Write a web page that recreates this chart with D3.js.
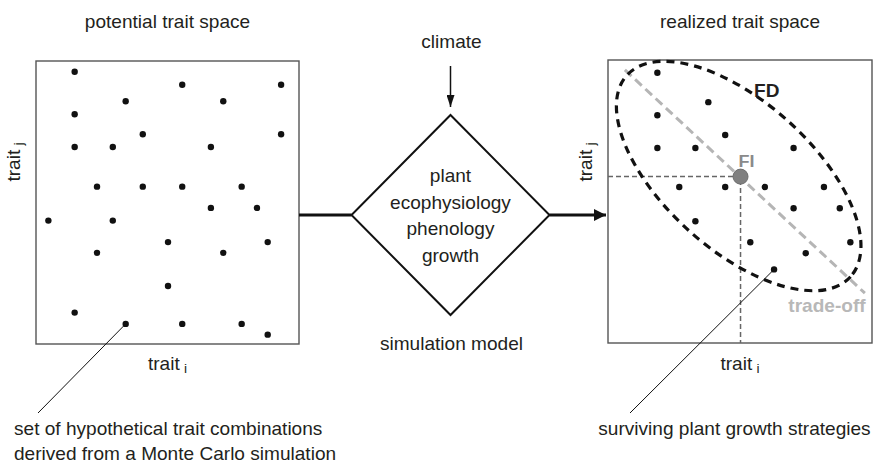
<!DOCTYPE html>
<html>
<head>
<meta charset="utf-8">
<script src="https://cdn.jsdelivr.net/npm/d3@7"></script>
<style>
  body { margin: 0; background: #fff; }
  text { font-family: "Liberation Sans", Arial, sans-serif; fill: #231f20; }
</style>
</head>
<body>
<div id="chart"></div>
<script>
// trait values are in arbitrary units, 0-10 on both axes
const potentialTraitI = [1.47, 5.56, 9.32, 3.41, 7.12, 1.47, 4.06, 9.32, 1.47, 2.92, 6.65, 2.32, 4.06, 5.56, 7.82,
                         6.65, 8.40, 0.47, 2.92, 5.02, 8.81, 2.32, 7.12, 5.02, 1.47, 3.41, 5.56, 7.82, 8.81];
const potentialTraitJ = [9.62, 9.16, 9.16, 8.58, 8.58, 8.12, 7.41, 7.41, 6.96, 6.96, 6.96, 5.56, 5.56, 5.56, 5.56,
                         4.81, 4.81, 4.36, 4.36, 3.60, 3.60, 3.22, 3.22, 2.05, 1.11, 0.71, 0.71, 0.71, 0.33];

const survivingTraitI = [1.87, 3.80, 1.87, 4.44, 1.87, 3.31, 7.03, 2.70, 4.44, 5.94, 8.18, 7.03, 8.78, 3.31, 5.39, 9.18, 7.49, 6.29];
const survivingTraitJ = [9.55, 8.51, 8.05, 7.35, 6.89, 6.89, 6.89, 5.51, 5.51, 5.51, 5.51, 4.76, 4.76, 4.30, 3.56, 3.56, 3.17, 2.60];

const functionalIdentity = [5.02, 5.88];       // FI: mean trait combination
const tradeOffLine = [[0.64, 9.65], [9.73, 1.76]];
const functionalDiversity = { centre: [4.95, 5.9], major: 5.7, minor: 2.8, angle: 42 }; // FD ellipse

const modelProcesses = ['plant', 'ecophysiology', 'phenology', 'growth'];
const leftNote = ['set of hypothetical trait combinations', 'derived from a Monte Carlo simulation'];
const rightNote = ['surviving plant growth strategies'];

const width = 873, height = 464;
const sx = 1.06;   // the source lettering is a little wider than Arial

const svg = d3.select('#chart').append('svg')
    .attr('width', width)
    .attr('height', height);

const defs = svg.append('defs');
defs.append('marker')
    .attr('id', 'bigHead')
    .attr('viewBox', '0 0 12 12')
    .attr('refX', 12).attr('refY', 6)
    .attr('markerWidth', 12).attr('markerHeight', 12)
    .attr('markerUnits', 'userSpaceOnUse')
    .attr('orient', 'auto')
    .append('path').attr('d', 'M0,0L12,6L0,12Z').attr('fill', '#111');
defs.append('marker')
    .attr('id', 'smallHead')
    .attr('viewBox', '0 0 12 8')
    .attr('refX', 12).attr('refY', 4)
    .attr('markerWidth', 12).attr('markerHeight', 8)
    .attr('markerUnits', 'userSpaceOnUse')
    .attr('orient', 'auto')
    .append('path').attr('d', 'M0,0L12,4L0,8Z').attr('fill', '#111');

// Text helper, stretched horizontally
const label = (g, x, y, str, opt = {}) => {
    const t = g.append('text')
        .attr('transform', `translate(${x},${y})${opt.rotate ? ' rotate(-90)' : ''} scale(${sx},1)`)
        .attr('text-anchor', opt.anchor || 'middle')
        .style('font-size', `${opt.size || 18}px`)
        .style('font-weight', opt.bold ? 'bold' : 'normal');
    if (opt.fill) t.style('fill', opt.fill);
    t.text(str);
    if (opt.sub) {
        t.append('tspan').attr('dx', 4).attr('dy', 3).style('font-size', '13px').text(opt.sub);
    }
    return t;
};

// One trait-space panel
const panel = (x0, x1, y0, y1, title) => {
    const xScale = d3.scaleLinear().domain([0, 10]).range([x0, x1]);
    const yScale = d3.scaleLinear().domain([0, 10]).range([y1, y0]);
    const g = svg.append('g');
    g.append('rect')
        .attr('x', x0).attr('y', y0)
        .attr('width', x1 - x0).attr('height', y1 - y0)
        .attr('fill', 'none')
        .attr('stroke', '#555')
        .attr('stroke-width', 1.4);
    label(g, (x0 + x1) / 2, 28, title);
    label(g, (x0 + x1) / 2, 370, 'trait', { sub: 'i' });
    label(g, x0 - 16, 162, 'trait', { sub: 'j', rotate: true });
    return { g, xScale, yScale };
};

const left = panel(36, 299, 61, 344, 'potential trait space');
const right = panel(608, 872, 60, 343, 'realized trait space');

// potential trait combinations
left.g.selectAll('.dot')
    .data(d3.range(potentialTraitI.length))
    .enter()
    .append('circle')
    .attr('class', 'dot')
    .attr('cx', i => left.xScale(potentialTraitI[i]))
    .attr('cy', i => left.yScale(potentialTraitJ[i]))
    .attr('r', 3.2)
    .attr('fill', '#111');

// realized panel: FI crosshair, trade-off, FD ellipse
const fiX = right.xScale(functionalIdentity[0]);
const fiY = right.yScale(functionalIdentity[1]);
right.g.append('path')
    .attr('d', `M${right.xScale(0)},${fiY}H${fiX}V${right.yScale(0)}`)
    .attr('fill', 'none')
    .attr('stroke', '#666')
    .attr('stroke-width', 1.5)
    .attr('stroke-dasharray', '5,3');

right.g.append('line')
    .attr('x1', right.xScale(tradeOffLine[0][0])).attr('y1', right.yScale(tradeOffLine[0][1]))
    .attr('x2', right.xScale(tradeOffLine[1][0])).attr('y2', right.yScale(tradeOffLine[1][1]))
    .attr('stroke', '#b5b5b5')
    .attr('stroke-width', 3)
    .attr('stroke-dasharray', '9,5');

const fdX = right.xScale(functionalDiversity.centre[0]);
const fdY = right.yScale(functionalDiversity.centre[1]);
right.g.append('ellipse')
    .attr('transform', `translate(${fdX},${fdY}) rotate(${functionalDiversity.angle})`)
    .attr('rx', right.xScale(functionalDiversity.major) - right.xScale(0))
    .attr('ry', right.xScale(functionalDiversity.minor) - right.xScale(0))
    .attr('fill', 'none')
    .attr('stroke', '#111')
    .attr('stroke-width', 3.2)
    .attr('stroke-dasharray', '8,6');

right.g.selectAll('.dot')
    .data(d3.range(survivingTraitI.length))
    .enter()
    .append('circle')
    .attr('class', 'dot')
    .attr('cx', i => right.xScale(survivingTraitI[i]))
    .attr('cy', i => right.yScale(survivingTraitJ[i]))
    .attr('r', 3.2)
    .attr('fill', '#111');

right.g.append('circle')
    .attr('cx', fiX).attr('cy', fiY)
    .attr('r', 7.5)
    .attr('fill', '#808080')
    .attr('stroke', '#6e6e6e');

label(right.g, fiX + 6, fiY - 10, 'FI', { bold: true, size: 17, fill: '#8a8a8a' });
label(right.g, 754, 97, 'FD', { bold: true, anchor: 'start' });
label(right.g, 827, 312, 'trade-off', { bold: true, fill: '#b8b8b8' });

// simulation model in the middle
const cx = 450.5, cy = 215, hw = 99, hh = 100;
const mid = svg.append('g');
mid.append('path')
    .attr('d', `M${cx},${cy - hh}L${cx + hw},${cy}L${cx},${cy + hh}L${cx - hw},${cy}Z`)
    .attr('fill', 'none')
    .attr('stroke', '#111')
    .attr('stroke-width', 2);
mid.append('line')
    .attr('x1', 299).attr('y1', cy).attr('x2', cx - hw).attr('y2', cy)
    .attr('stroke', '#111').attr('stroke-width', 3);
mid.append('line')
    .attr('x1', cx + hw).attr('y1', cy).attr('x2', 606).attr('y2', cy)
    .attr('stroke', '#111').attr('stroke-width', 3)
    .attr('marker-end', 'url(#bigHead)');
mid.append('line')
    .attr('x1', cx).attr('y1', 66).attr('x2', cx).attr('y2', 107)
    .attr('stroke', '#111').attr('stroke-width', 1.5)
    .attr('marker-end', 'url(#smallHead)');
label(mid, cx + 1, 48, 'climate');
modelProcesses.forEach((p, i) => label(mid, cx, 182 + i * 26.7, p));
label(mid, cx + 1, 350, 'simulation model');

// leader lines and notes
const leader = (x1, y1, x2, y2) => svg.append('line')
    .attr('x1', x1).attr('y1', y1).attr('x2', x2).attr('y2', y2)
    .attr('stroke', '#111').attr('stroke-width', 1);
leader(left.xScale(potentialTraitI[25]), left.yScale(potentialTraitJ[25]), 38, 413);
leader(right.xScale(survivingTraitI[17]) - 2, right.yScale(survivingTraitJ[17]) + 2, 630, 413);

leftNote.forEach((t, i) => label(svg, 14, 435 + i * 25, t, { anchor: 'start' }));
rightNote.forEach((t, i) => label(svg, 734.5, 435 + i * 25, t));
</script>
</body>
</html>
